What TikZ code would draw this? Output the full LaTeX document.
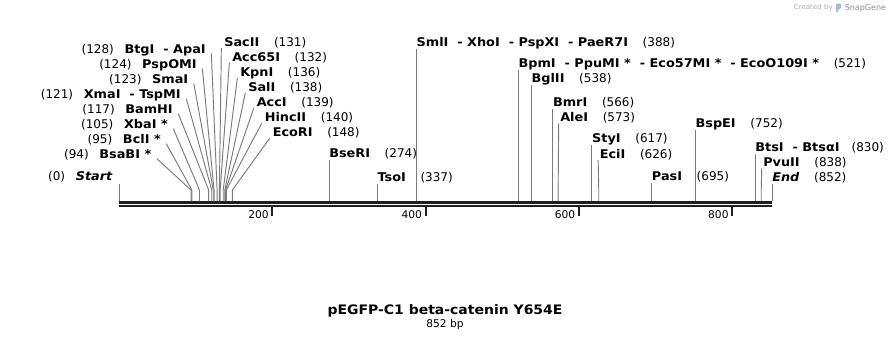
\documentclass[tikz,border=0pt]{standalone}
\usepackage{fontspec}
\setmainfont{DejaVu Sans}[BoldFeatures={FakeStretch=1.07}, BoldItalicFeatures={FakeStretch=1.07}]
\usepackage{tikz}

\definecolor{sitegray}{HTML}{7A7A7A}
\definecolor{axisblack}{HTML}{1E1E1E}
\definecolor{snapblue}{HTML}{A9BCCF}

\begin{document}
\begin{tikzpicture}[
    x=0.75pt, y=-0.75pt,
    lbl/.style={inner sep=0pt, anchor=base west, font=\fontsize{9}{11}\selectfont},
    lbll/.style={lbl, anchor=base east},
    site/.style={draw=sitegray, line width=0.7pt},
    axis/.style={draw=axisblack, line width=2.2pt},
    axisthin/.style={draw=axisblack, line width=1.2pt},
    tick/.style={draw=axisblack, line width=1.5pt},
    tlbl/.style={inner sep=0pt, anchor=base east, font=\fontsize{8}{10}\selectfont}
]
    \useasboundingbox (0,0) rectangle (892,340);

    % Sites
    \foreach \n/\p in {Start/0, BsaBI/94, BclI/95, XbaI/105, BamHI/117, XmaI/121,
        SmaI/123, PspOMI/124, BtgI/128, SacII/131, Acc65I/132, KpnI/136, SalI/138,
        AccI/139, HincII/140, EcoRI/148, BseRI/274, TsoI/337, SmlI/388, BpmI/521,
        BglII/538, BmrI/566, AleI/573, StyI/617, EciI/626, PasI/695, BspEI/752,
        BtsI/830, PvuII/838, End/852}
        \coordinate (s\n) at ({119+\p*0.7664},201);

    % Sequence
    \draw[axis] (119,202.5) -- (772,202.5);
    \draw[axisthin] (119,205.8) -- (772,205.8);
    \foreach \t in {200,400,600,800} {
        \draw[tick] ({119+\t*0.7664},205) -- ({119+\t*0.7664},216);
        \node[tlbl] (t\t) at ({115.7+\t*0.7664},218) {\t};
    }

    % Left labels
    \node[lbll] (lBtgI) at (206,53) {(128)\hspace{8pt}\textbf{BtgI\ \ - ApaI}};
    \node[lbll] (lPspOMI) at (197,68) {(124)\hspace{8pt}\textbf{PspOMI}};
    \node[lbll] (lSmaI) at (188.5,83) {(123)\hspace{8pt}\textbf{SmaI}};
    \node[lbll] (lXmaI) at (181,98) {(121)\hspace{8pt}\textbf{XmaI\ \ - TspMI}};
    \node[lbll] (lBamHI) at (173,113) {(117)\hspace{8pt}\textbf{BamHI}};
    \node[lbll] (lXbaI) at (168,128) {(105)\hspace{8pt}\textbf{XbaI *}};
    \node[lbll] (lBclI) at (161,143) {(95)\hspace{8pt}\textbf{BclI *}};
    \node[lbll] (lBsaBI) at (151.5,158) {(94)\hspace{8pt}\textbf{BsaBI *}};
    \node[lbll] (lStart) at (113,180) {(0)\hspace{8pt}\textbf{\itshape Start}};

    % Right labels of the cluster
    \node[lbl] (lSacII) at (224,46) {\textbf{SacII}\hspace{11pt}(131)};
    \node[lbl] (lAcc65I) at (232,61) {\textbf{Acc65I}\hspace{11pt}(132)};
    \node[lbl] (lKpnI) at (240,76) {\textbf{KpnI}\hspace{11pt}(136)};
    \node[lbl] (lSalI) at (248,91) {\textbf{SalI}\hspace{11pt}(138)};
    \node[lbl] (lAccI) at (256.5,106) {\textbf{AccI}\hspace{11pt}(139)};
    \node[lbl] (lHincII) at (264.5,121) {\textbf{HincII}\hspace{11pt}(140)};
    \node[lbl] (lEcoRI) at (272.5,136) {\textbf{EcoRI}\hspace{11pt}(148)};

    % Other labels
    \node[lbl] (lBseRI) at (sBseRI |- 0,157.5) {\textbf{BseRI}\hspace{11pt}(274)};
    \node[lbl] (lTsoI) at (sTsoI |- 0,181) {\textbf{TsoI}\hspace{11pt}(337)};
    \node[lbl] (lSmlI) at (sSmlI |- 0,46.5) {\textbf{SmlI\ \ - XhoI\ \ - PspXI\ \ - PaeR7I}\hspace{11pt}(388)};
    \node[lbl] (lBpmI) at (sBpmI |- 0,67.5) {\textbf{BpmI\ \ - PpuMI *\ \ - Eco57MI *\ \ - EcoO109I *}\hspace{11pt}(521)};
    \node[lbl] (lBglII) at (sBglII |- 0,82.5) {\textbf{BglII}\hspace{11pt}(538)};
    \node[lbl] (lBmrI) at (sBmrI |- 0,106) {\textbf{BmrI}\hspace{11pt}(566)};
    \node[lbl] (lAleI) at (560,121.5) {\textbf{AleI}\hspace{11pt}(573)};
    \node[lbl] (lStyI) at (sStyI |- 0,142.7) {\textbf{StyI}\hspace{11pt}(617)};
    \node[lbl] (lEciI) at (599.5,158) {\textbf{EciI}\hspace{11pt}(626)};
    \node[lbl] (lPasI) at (sPasI |- 0,180.7) {\textbf{PasI}\hspace{11pt}(695)};
    \node[lbl] (lBspEI) at (sBspEI |- 0,127.5) {\textbf{BspEI}\hspace{11pt}(752)};
    \node[lbl] (lBtsI) at (sBtsI |- 0,151) {\textbf{BtsI\ \ - BtsαI}\hspace{9pt}(830)};
    \node[lbl] (lPvuII) at (763,166.5) {\textbf{PvuII}\hspace{11pt}(838)};
    \node[lbl] (lEnd) at (sEnd |- 0,181) {\textbf{\itshape End}\hspace{11pt}(852)};

    % Cut lines
    \foreach \n in {BsaBI, BclI, XbaI, BamHI, XmaI, SmaI, PspOMI, BtgI}
        \draw[site] (s\n) -- ++(0,-11) -- ([shift={(4pt,-0.5pt)}]l\n.base east);
    \foreach \n in {SacII, Acc65I, KpnI, SalI, AccI, HincII, EcoRI}
        \draw[site] (s\n) -- ++(0,-11) -- ([shift={(-2pt,-1.5pt)}]l\n.base west);
    \foreach \n in {AleI, EciI, PvuII}
        \draw[site] (s\n) -- ++(0,-11) -- ([shift={(-1pt,-1.5pt)}]l\n.base west);
    \foreach \n in {BseRI, TsoI, SmlI, BpmI, BglII, BmrI, StyI, PasI, BspEI, BtsI, End}
        \draw[site] (s\n) -- ([yshift=-2pt]l\n.base west);
    \draw[site] (sStart) -- (sStart |- 0,184);

    % Title
    \node[inner sep=0pt, anchor=base, font=\fontsize{9.8}{12}\bfseries] (title) at (445,314) {pEGFP-C1 beta-catenin Y654E};
    \node[inner sep=0pt, anchor=base, font=\fontsize{8}{10}\selectfont] (size) at (445,327) {852 bp};

    % Watermark
    \node[inner sep=0pt, anchor=base east, text=black!32, font=\fontsize{5.3}{6}\selectfont] (created) at (833,9.5) {Created by};
    \fill[snapblue, rounded corners=0.8pt] (836,3.5) -- (841,3.5) -- (841,8.5) -- (838.3,9.3) -- (838.3,12.5) -- (836,12.5) -- cycle;
    \node[inner sep=0pt, anchor=base west, text=black!45, font=\fontsize{6}{7}\selectfont] (snapgene) at (844.5,10) {SnapGene};
\end{tikzpicture}
\end{document}
